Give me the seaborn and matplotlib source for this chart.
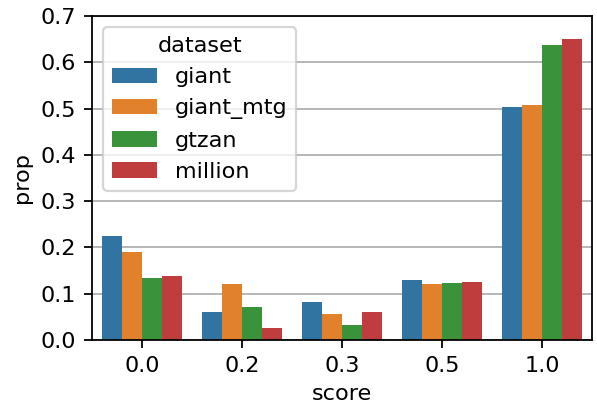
import matplotlib
matplotlib.use("Agg")
import matplotlib.pyplot as plt
import pandas as pd
import seaborn as sns

scores = ["0.0", "0.2", "0.3", "0.5", "1.0"]
datasets = ["giant", "giant_mtg", "gtzan", "million"]

giant = [0.225, 0.061, 0.082, 0.130, 0.503]
giant_mtg = [0.190, 0.121, 0.056, 0.121, 0.508]
gtzan = [0.134, 0.071, 0.032, 0.123, 0.637]
million = [0.137, 0.026, 0.060, 0.125, 0.650]

props = {"giant": giant, "giant_mtg": giant_mtg, "gtzan": gtzan, "million": million}

rows = []
for name in datasets:
    for s, p in zip(scores, props[name]):
        rows.append({"score": s, "prop": p, "dataset": name})
df = pd.DataFrame(rows)

DPI = 161
fig, ax = plt.subplots(figsize=(597 / DPI, 410 / DPI), dpi=DPI)
fig.subplots_adjust(left=0.154, right=0.9916, top=0.961, bottom=0.171)

sns.barplot(data=df, x="score", y="prop", hue="dataset",
            order=scores, hue_order=datasets, ax=ax)

ax.set_ylim(0, 0.7)
ax.set_axisbelow(True)
ax.yaxis.grid(True)
ax.legend(title="dataset", loc="upper left")

fig.savefig("out.png", dpi=DPI)
